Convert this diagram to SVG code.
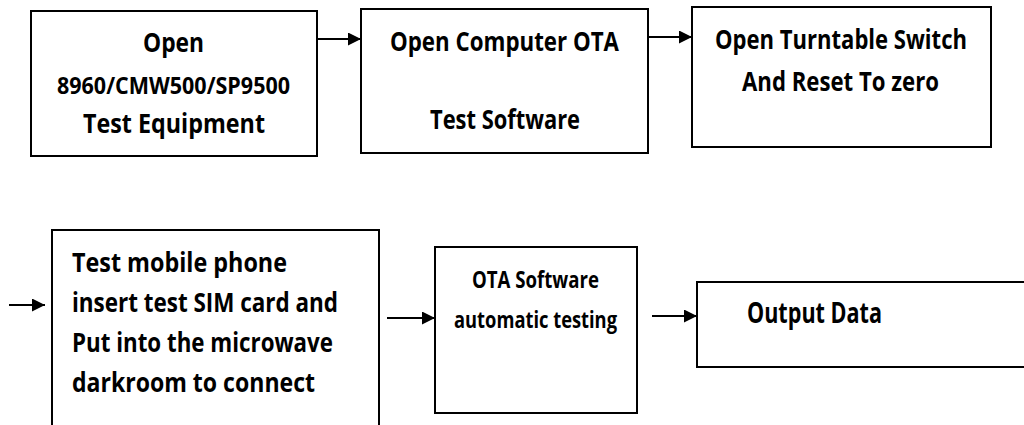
<svg xmlns="http://www.w3.org/2000/svg" width="1024" height="425" viewBox="0 0 1024 425">
<defs>
<marker id="ah" viewBox="0 0 10 10" refX="10" refY="5" markerWidth="16" markerHeight="13" markerUnits="userSpaceOnUse" orient="auto">
<path d="M0,0 L10,5 L0,10 z" fill="#000"/>
</marker>
</defs>
<style>
.box{fill:#fff;stroke:#000;stroke-width:2}
.t{font-family:"Open Sans",Lato,"DejaVu Sans",sans-serif;font-weight:bold;font-size:26px;fill:#000}
.s{font-size:23px}
.b{font-size:28px}
.c{stroke:#000;stroke-width:2;fill:none;marker-end:url(#ah)}
</style>
<rect width="1024" height="425" fill="#fff"/>
<g id="connectors">
<line class="c" x1="317" y1="39" x2="361" y2="39"/>
<line class="c" x1="648" y1="37" x2="692" y2="37"/>
<line class="c" x1="9" y1="305" x2="45" y2="305"/>
<line class="c" x1="387" y1="318" x2="435" y2="318"/>
<line class="c" x1="652" y1="316" x2="697" y2="316"/>
</g>
<g id="n1">
<rect class="box" x="31" y="11" width="286" height="145"/>
<text class="t" x="143" y="52" textLength="61" lengthAdjust="spacingAndGlyphs">Open</text>
<text class="t s" x="57" y="94" textLength="233" lengthAdjust="spacingAndGlyphs">8960/CMW500/SP9500</text>
<text class="t" x="83" y="133" textLength="182" lengthAdjust="spacingAndGlyphs">Test Equipment</text>
</g>
<g id="n2">
<rect class="box" x="361" y="9" width="287" height="144"/>
<text class="t" x="390" y="51" textLength="229" lengthAdjust="spacingAndGlyphs">Open Computer OTA</text>
<text class="t" x="430" y="129" textLength="150" lengthAdjust="spacingAndGlyphs">Test Software</text>
</g>
<g id="n3">
<rect class="box" x="692" y="7" width="299" height="140"/>
<text class="t" x="715" y="49" textLength="252" lengthAdjust="spacingAndGlyphs">Open Turntable Switch</text>
<text class="t" x="742" y="91" textLength="197" lengthAdjust="spacingAndGlyphs">And Reset To zero</text>
</g>
<g id="n4">
<rect class="box" x="52" y="230" width="327" height="200"/>
<text class="t" x="72" y="272" textLength="215" lengthAdjust="spacingAndGlyphs">Test mobile phone</text>
<text class="t" x="72" y="312" textLength="266" lengthAdjust="spacingAndGlyphs">insert test SIM card and</text>
<text class="t" x="72" y="352" textLength="261" lengthAdjust="spacingAndGlyphs">Put into the microwave</text>
<text class="t" x="72" y="392" textLength="243" lengthAdjust="spacingAndGlyphs">darkroom to connect</text>
</g>
<g id="n5">
<rect class="box" x="435" y="247" width="202" height="166"/>
<text class="t s" x="472" y="288" textLength="127" lengthAdjust="spacingAndGlyphs">OTA Software</text>
<text class="t s" x="454" y="328" textLength="163" lengthAdjust="spacingAndGlyphs">automatic testing</text>
</g>
<g id="n6">
<rect class="box" x="697" y="282" width="340" height="85"/>
<text class="t b" x="747" y="323" textLength="135" lengthAdjust="spacingAndGlyphs">Output Data</text>
</g>
</svg>
